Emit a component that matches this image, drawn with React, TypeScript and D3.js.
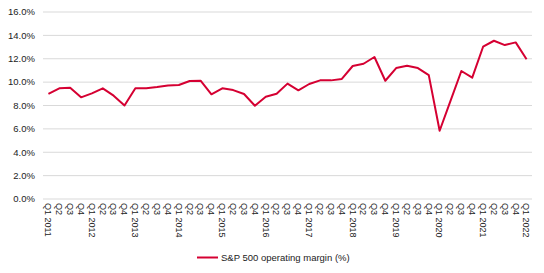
import React from "react";
import * as d3 from "d3";

const years = ["2011","2012","2013","2014","2015","2016","2017","2018","2019","2020","2021","2022"];
const quarters = ["Q1","Q2","Q3","Q4"];
const categories: string[] = [];
years.forEach((y) => quarters.forEach((q) => { if (categories.length < 45) categories.push(`${q} ${y}`); }));
const margins = [
  9.0, 9.47, 9.52, 8.7,
  9.04, 9.47, 8.84, 8.0,
  9.47, 9.47, 9.58, 9.72,
  9.75, 10.1, 10.12, 8.96,
  9.47, 9.32, 8.98, 7.98,
  8.75, 9.0, 9.87, 9.3,
  9.84, 10.15, 10.15, 10.27,
  11.38, 11.57, 12.15, 10.12,
  11.2, 11.4, 11.2, 10.6,
  5.84, 8.4, 10.95, 10.38,
  13.03, 13.54, 13.17, 13.4,
  11.95,
];
const yTicks = [0, 2, 4, 6, 8, 10, 12, 14, 16];
const seriesName = "S&P 500 operating margin (%)";

export default function App() {
  const W = 544, H = 273;
  const x0 = 43, x1 = 532, yTop = 12, yBot = 199;
  const x = d3.scaleBand<string>().domain(categories).range([x0, x1]);
  const y = d3.scaleLinear().domain([0, 16]).range([yBot, yTop]);
  const line = d3.line<number>()
    .x((_, i) => (x(categories[i]) as number) + x.bandwidth() / 2)
    .y((d) => y(d));
  const font = "'Liberation Sans', Arial, sans-serif";
  return (
    <svg width={W} height={H} style={{ position: "absolute", left: 0, top: 0, background: "#fff" }} fontFamily={font}>
      {yTicks.map((t) => (
        <g key={t}>
          <line x1={x0} x2={x1} y1={y(t)} y2={y(t)} stroke="#d9d9d9" strokeWidth={1} />
          <text x={35} y={y(t)} dy="0.35em" textAnchor="end" fontSize={9.5} fill="#222">
            {t.toFixed(1)}%
          </text>
        </g>
      ))}
      {categories.map((c) => {
        const cx = (x(c) as number) + x.bandwidth() / 2;
        const label = c.startsWith("Q1") ? c : c.slice(0, 2);
        return (
          <text key={c} transform={`translate(${cx},${203}) rotate(90)`} dy="0.35em" textAnchor="start" fontSize={9} fill="#222">
            {label}
          </text>
        );
      })}
      <path d={line(margins) || ""} fill="none" stroke="#d50032" strokeWidth={2} strokeLinejoin="round" />
      <line x1={197} x2={218} y1={257.5} y2={257.5} stroke="#d50032" strokeWidth={2} />
      <text x={221} y={257.5} dy="0.35em" fontSize={9.5} fill="#222">{seriesName}</text>
    </svg>
  );
}
